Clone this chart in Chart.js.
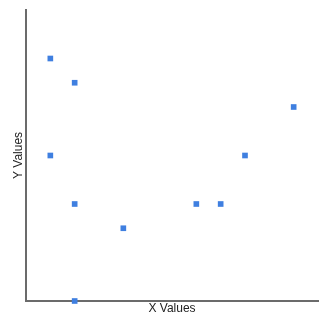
<!DOCTYPE html>
<html>
<head>
<meta charset="utf-8">
<script src="https://cdn.jsdelivr.net/npm/chart.js@4"></script>
<style>
  html, body { margin: 0; padding: 0; background: #fff; }
  #wrap { width: 327px; height: 323px; }
</style>
</head>
<body>
<div id="wrap"><canvas id="scatterChart"></canvas></div>
<script>
// values
const xValues = [1, 2, 1, 2, 4, 2, 7, 8, 9, 11];
const yValues = [10, 9, 6, 4, 3, 0, 4, 4, 6, 8];
const xRange = [0, 12];
const yRange = [0, 12];

const AXIS_COLOR = '#6b6b6b';
const POINT_COLOR = '#3f7fe0';
const TITLE_FONT = { family: 'Liberation Sans, Arial, sans-serif', size: 12 };

const points = xValues.map((x, i) => ({ x: x, y: yValues[i] }));

const ctx = document.getElementById('scatterChart').getContext('2d');
new Chart(ctx, {
  type: 'scatter',
  data: {
    datasets: [{
      data: points,
      pointStyle: 'rect',
      pointRadius: 4,
      pointHoverRadius: 4,
      backgroundColor: POINT_COLOR,
      borderWidth: 0,
      clip: false
    }]
  },
  options: {
    responsive: true, maintainAspectRatio: false,
    animation: false,
    layout: { padding: { top: 10, right: 9, left: 0, bottom: 0 } },
    plugins: { legend: { display: false }, tooltip: { enabled: false } },
    scales: {
      x: {
        type: 'linear', min: xRange[0], max: xRange[1],
        grid: { display: false },
        border: { display: true, color: AXIS_COLOR, width: 2 },
        ticks: { display: false },
        title: {
          display: true, text: 'X Values', color: '#222',
          font: TITLE_FONT,
          padding: { top: 0, bottom: 7 }
        },
        afterFit: (scale) => { scale.height = 22; }
      },
      y: {
        type: 'linear', min: yRange[0], max: yRange[1],
        grid: { display: false },
        border: { display: true, color: AXIS_COLOR, width: 2 },
        ticks: { display: false },
        title: {
          display: true, text: 'Y Values', color: '#222',
          font: TITLE_FONT,
          padding: { top: 11, bottom: 0 }
        },
        afterFit: (scale) => { scale.width = 26; }
      }
    }
  }
});
</script>
</body>
</html>
